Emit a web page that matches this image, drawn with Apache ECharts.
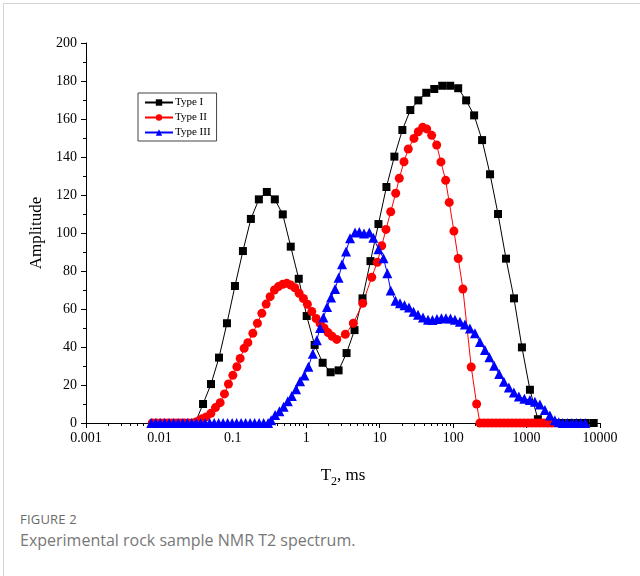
<!DOCTYPE html>
<html>
<head>
<meta charset="utf-8">
<script src="https://cdn.jsdelivr.net/npm/echarts@6/dist/echarts.min.js"></script>
<style>
  html, body { margin: 0; padding: 0; background: #fff; }
  #frame { position: absolute; left: 3px; top: 3px; width: 700px; height: 700px;
           border-left: 1px solid #d4d4d4; border-top: 1px solid #d4d4d4; }
  #chart { position: absolute; left: 0; top: 0; width: 640px; height: 500px; }
  .fig { position: absolute; left: 20px; top: 510px; font-family: "Open Sans", sans-serif;
         font-size: 13px; color: #6a6a6a; letter-spacing: 0.2px; }
  .cap { position: absolute; left: 20px; top: 529px; font-family: "Open Sans", sans-serif;
         font-size: 16px; color: #777; }
</style>
</head>
<body>
<div id="frame"></div>
<div id="chart"></div>
<div class="fig">FIGURE 2</div>
<div class="cap">Experimental rock sample NMR T2 spectrum.</div>
<script>
// T2 relaxation time (ms) and amplitude for each rock type
const typeI_T = [0.00876,0.01125,0.01445,0.01855,0.02382,0.03058,0.03927,0.05042,0.06474,0.08313,
  0.1068,0.1371,0.1760,0.2260,0.2902,0.3726,0.4785,0.6143,0.7889,1.013,
  1.300,1.670,2.145,2.754,3.536,4.539,5.829,7.483,9.610,12.34,
  15.84,20.34,26.12,33.54,43.07,55.30,71.01,91.17,117.1,150.3,
  193.0,247.8,318.2,408.6,524.7,673.7,865.0,1111,1426,1831,
  2351,3019,3876,4977,6391,8206];
const typeI_amp = [0,0,0,0,0,0,10,20.5,34.4,52.5,
  72.1,90.5,107.4,117.7,121.6,117.7,109.8,92.8,75.9,56.3,
  41.1,31.7,26.7,27.7,36.8,48.9,65.6,85.2,104.7,124.2,
  140.2,154.2,164.7,169.8,173.8,175.8,177.5,177.5,176.2,169.8,
  161.9,148.9,130.9,110,86.5,65.6,39.8,17.5,2,0,
  0,0,0,0,0,0];

const typeII_T = [0.00798,0.00905,0.01025,0.01162,0.01317,0.01493,0.01693,0.01919,0.02175,0.02465,
  0.02795,0.03168,0.03479,0.03822,0.04333,0.05019,0.05799,0.06717,0.07685,0.08713,
  0.1000,0.1133,0.1257,0.1424,0.1600,0.1871,0.2161,0.2481,0.2839,0.3218,
  0.3681,0.4173,0.4790,0.5429,0.6153,0.6975,0.7980,0.9131,1.035,1.188,
  1.359,1.541,1.747,1.980,2.244,2.600,3.404,4.373,5.871,7.785,
  9.276,10.65,12.18,14.12,16.51,18.48,21.41,24.50,29.29,33.52,
  38.46,43.61,51.00,59.64,68.23,79.07,88.50,102.5,117.3,135.9,
  176.3,208.8,231.5,262.4,297.5,337.2,382.2,433.2,491.2,556.8,
  631.0,715.2,810.8,919.0,1042,1181,1338,1517,1719,1949,
  2209];
const typeII_amp = [0,0,0,0,0,0,0,0,0,0,
  0,0.5,1.2,2.3,3.2,5.1,8.1,10.7,15.3,20.5,
  25.1,29.6,34,39.3,42.3,47.2,52.5,57.7,62.6,66.5,
  70,71.8,73,73.5,72.6,71.2,68.3,65.5,62.5,58.7,
  55,52.4,50,47.6,45.6,44,46.7,52.5,63,76.7,
  84.6,93.3,101.9,111.2,120.9,128.8,137.5,144.2,149.8,153.3,
  155.6,154.8,151.4,146.3,137.4,127.7,116.1,101,86.6,70.5,
  29.5,10,0,0,0,0,0,0,0,0,
  0,0,0,0,0,0,0,0,0,0,
  0];

const typeIII_T = [0.007733,0.008905,0.01025,0.01181,0.01359,0.01565,0.01802,0.02075,0.02389,0.02750,
  0.03167,0.03646,0.04198,0.04833,0.05565,0.06407,0.07377,0.08494,0.09783,0.1126,
  0.1297,0.1493,0.1719,0.1979,0.2279,0.2624,0.3021,0.3320,0.3762,0.4305,
  0.4911,0.5602,0.6349,0.7265,0.8234,0.9422,1.068,1.226,1.390,1.541,
  1.708,1.919,2.175,2.465,2.751,3.070,3.479,3.944,4.612,5.278,
  6.114,7.219,8.184,9.631,11.26,12.69,14.12,16.40,18.89,21.75,
  25.04,28.84,33.20,38.84,45.42,52.29,60.20,69.31,79.80,91.89,
  105.8,123.7,144.7,169.3,198.0,231.5,270.8,311.8,362.4,423.9,
  491.1,574.3,671.8,785.8,933.4,1109,1297,1517,1774,2075,
  2427,2751,3118,3590,4133,4760,5481,6310];
const typeIII_amp = [0,0,0,0,0,0,0,0,0,0,
  0,0,0,0,0,0,0,0,0,0,
  0,0,0,0,0,0,0,1.5,4.2,6.2,
  8.5,11.4,14.2,17.8,22,25,29.6,36.5,43.5,50,
  55.5,61,66,70.5,76.5,83.5,90.2,97.2,100.2,100.5,
  99.8,100.2,97.5,91.5,86.7,78.8,69.8,64.3,63,62,
  60.8,58.6,57,55.5,54.3,54.2,54.8,55.1,55.1,55,
  54.4,53.3,51.8,49.8,47.2,42.6,38.4,34.6,30.1,25.8,
  21.7,18.7,16,14,12.8,12.1,11.2,9.8,6.8,4,
  1.4,0.4,0,0,0,0,0,0];

const xTickLabels = ['0.001','0.01','0.1','1','10','100','1000','10000'];
const seriesNames = ['Type I','Type II','Type III'];

// minor log ticks (2..9 in every decade), expressed as exponents for the overlay axis
const minorExp = [];
for (let d = -3; d < 4; d++) {
  for (let k = 2; k <= 9; k++) minorExp.push(d + Math.log10(k));
}

const pairs = (xs, ys) => xs.map((x, i) => [x, ys[i]]);
const serif = '"Liberation Serif", "DejaVu Serif", serif';

const chart = echarts.init(document.getElementById('chart'), null, { renderer: 'canvas' });
chart.setOption({
  animation: false,
  grid: { left: 86, top: 43, width: 514, height: 380, containLabel: false },
  legend: {
    orient: 'vertical', left: 138, top: 93,
    itemWidth: 28, itemHeight: 8, itemGap: 4,
    borderColor: '#444', borderWidth: 1, padding: [4, 6, 3, 6],
    textStyle: { fontFamily: serif, fontSize: 11, color: '#000', padding: [0, 0, 0, -3] },
    data: seriesNames
  },
  xAxis: [
    {
      type: 'log', logBase: 10, min: 0.001, max: 10000, splitNumber: 7,
      axisLine: { lineStyle: { color: '#000', width: 1 } },
      axisTick: { length: 5, lineStyle: { color: '#000' } },
      splitLine: { show: false },
      axisLabel: {
        fontFamily: serif, fontSize: 14, color: '#000', margin: 8,
        formatter: v => xTickLabels[Math.round(Math.log10(v)) + 3]
      },
      name: '{a|T}{s|2}{a|, ms}',
      nameLocation: 'middle', nameGap: 44,
      nameTextStyle: {
        rich: {
          a: { fontFamily: serif, fontSize: 17, color: '#000', verticalAlign: 'top', lineHeight: 20 },
          s: { fontFamily: serif, fontSize: 12, color: '#000', verticalAlign: 'top', lineHeight: 20, padding: [9, 0, 0, 0] }
        }
      }
    },
    {
      type: 'value', min: -3, max: 4, position: 'bottom',
      axisLine: { show: false, onZero: false },
      axisTick: { show: true, length: 3, customValues: minorExp, lineStyle: { color: '#000' } },
      axisLabel: { show: false },
      splitLine: { show: false }
    }
  ],
  yAxis: {
    type: 'value', min: 0, max: 200, interval: 20,
    axisLine: { show: true, onZero: false, lineStyle: { color: '#000', width: 1 } },
    axisTick: { show: true, length: 5, lineStyle: { color: '#000' } },
    minorTick: { show: true, splitNumber: 2, length: 3, lineStyle: { color: '#000' } },
    splitLine: { show: false },
    axisLabel: { fontFamily: serif, fontSize: 14, color: '#000', margin: 9 },
    name: 'Amplitude', nameLocation: 'middle', nameGap: 40, nameRotate: 90,
    nameTextStyle: { fontFamily: serif, fontSize: 17, color: '#000' }
  },
  series: [
    {
      name: seriesNames[0], type: 'line', xAxisIndex: 0, data: pairs(typeI_T, typeI_amp),
      symbol: 'rect', symbolSize: 8, showAllSymbol: true,
      lineStyle: { color: '#000', width: 1 }, itemStyle: { color: '#000' }
    },
    {
      name: seriesNames[1], type: 'line', xAxisIndex: 0, data: pairs(typeII_T, typeII_amp),
      symbol: 'circle', symbolSize: 9, showAllSymbol: true,
      lineStyle: { color: '#ff0000', width: 1 }, itemStyle: { color: '#ff0000' }
    },
    {
      name: seriesNames[2], type: 'line', xAxisIndex: 0, data: pairs(typeIII_T, typeIII_amp),
      symbol: 'triangle', symbolSize: 10, showAllSymbol: true,
      lineStyle: { color: '#0000ff', width: 1 }, itemStyle: { color: '#0000ff' }
    }
  ]
});
</script>
</body>
</html>
